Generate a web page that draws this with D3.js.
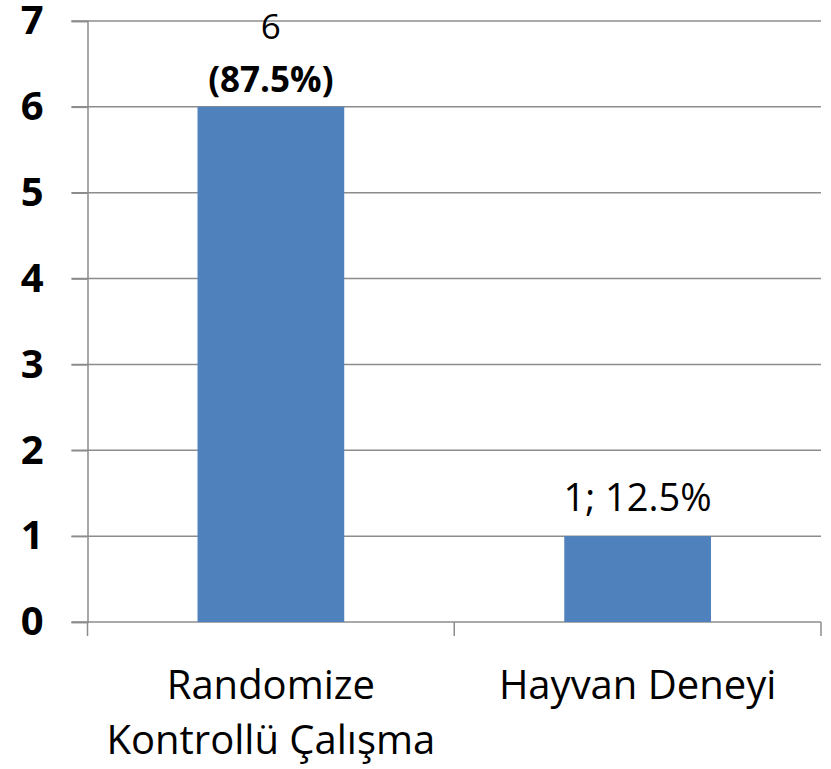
<!DOCTYPE html>
<html>
<head>
<meta charset="utf-8">
<script src="https://cdn.jsdelivr.net/npm/d3@7"></script>
<style>
  body { margin: 0; background: #fff; }
  text { font-family: "Open Sans", "Liberation Sans", sans-serif; }
</style>
</head>
<body>
<div class="chart"></div>
<script>
// chart data
var categories = [["Randomize", "Kontrollü Çalışma"], ["Hayvan Deneyi"]];
var values = [6, 1];
var percents = [87.5, 12.5];
var yTicks = [0, 1, 2, 3, 4, 5, 6, 7];

var svgWidth = 831, svgHeight = 769;
var margin = { top: 21, right: 10, bottom: 147, left: 87.5 };
var width = svgWidth - margin.left - margin.right;
var height = svgHeight - margin.top - margin.bottom;

var svg = d3.select(".chart").append("svg")
  .attr("width", svgWidth)
  .attr("height", svgHeight);

var chartGroup = svg.append("g")
  .attr("transform", `translate(${margin.left}, ${margin.top})`);

var keys = categories.map(d => d.join(" "));

var xScale = d3.scaleBand()
  .domain(keys)
  .range([0, width])
  .paddingInner(0.6)
  .paddingOuter(0.3);

var yScale = d3.scaleLinear()
  .domain([0, 7])
  .range([height, 0]);

// gridlines
chartGroup.append("g")
  .selectAll("line")
  .data(yTicks)
  .enter()
  .append("line")
  .attr("x1", -16)
  .attr("x2", width)
  .attr("y1", d => yScale(d))
  .attr("y2", d => yScale(d))
  .attr("stroke", "#8c8c8c")
  .attr("stroke-width", 1.5);

// y axis
var yAxis = chartGroup.append("g")
  .call(d3.axisLeft(yScale)
    .tickValues(yTicks)
    .tickFormat(d3.format("d"))
    .tickSize(16)
    .tickPadding(28));
yAxis.select(".domain").attr("stroke", "#8c8c8c").attr("stroke-width", 1.5);
yAxis.selectAll(".tick line").attr("stroke", "#8c8c8c").attr("stroke-width", 1.5);
yAxis.selectAll("text")
  .attr("font-size", 40)
  .attr("font-weight", "bold")
  .attr("fill", "#000")
  .attr("font-family", "Open Sans, Liberation Sans, sans-serif");

// x axis tick marks at band boundaries
var step = xScale.step();
chartGroup.append("g")
  .selectAll("line")
  .data(d3.range(keys.length + 1))
  .enter()
  .append("line")
  .attr("x1", i => i * step)
  .attr("x2", i => i * step)
  .attr("y1", height)
  .attr("y2", height + 14)
  .attr("stroke", "#8c8c8c")
  .attr("stroke-width", 1.5);

// bars
chartGroup.selectAll("rect")
  .data(values)
  .enter()
  .append("rect")
  .attr("x", (d, i) => xScale(keys[i]))
  .attr("y", d => yScale(d))
  .attr("width", xScale.bandwidth())
  .attr("height", d => height - yScale(d))
  .attr("fill", "#4f81bd");

// data labels
var cx0 = xScale(keys[0]) + xScale.bandwidth() / 2;
chartGroup.append("text")
  .attr("x", cx0)
  .attr("y", yScale(values[0]) - 68)
  .attr("text-anchor", "middle")
  .attr("font-size", 35)
  .text(values[0]);
chartGroup.append("text")
  .attr("x", cx0)
  .attr("y", yScale(values[0]) - 15)
  .attr("text-anchor", "middle")
  .attr("font-size", 35)
  .attr("font-weight", "bold")
  .text(`(${percents[0]}%)`);

var cx1 = xScale(keys[1]) + xScale.bandwidth() / 2;
chartGroup.append("text")
  .attr("x", cx1)
  .attr("y", yScale(values[1]) - 25)
  .attr("text-anchor", "middle")
  .attr("font-size", 38)
  .text(`${values[1]}; ${percents[1]}%`);

// category labels
categories.forEach(function (lines, i) {
  var cx = xScale(keys[i]) + xScale.bandwidth() / 2;
  lines.forEach(function (line, j) {
    chartGroup.append("text")
      .attr("x", cx)
      .attr("y", height + 77 + j * 55)
      .attr("text-anchor", "middle")
      .attr("font-size", 40)
      .text(line);
  });
});
</script>
</body>
</html>
